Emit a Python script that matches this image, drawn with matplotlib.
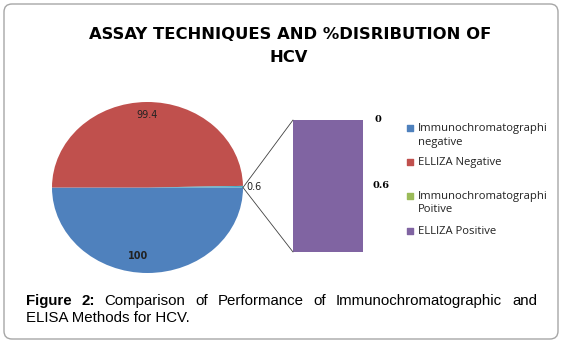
import numpy as np
import matplotlib
matplotlib.use('Agg')
import matplotlib.pyplot as plt
from matplotlib.patches import FancyBboxPatch, ConnectionPatch
from matplotlib.transforms import Bbox, TransformedBbox, IdentityTransform

W, H = 563, 344

# datos del grafico
pie_values = [100, 99.4, 0.6]          # negativo inmuno, negativo ELLIZA, "otros"
pie_text = ['100', '99.4', '0.6']
bar_values = [0.6, 0]                  # ELLIZA positivo, inmuno positivo
bar_text = ['0.6', '0']
legend_labels = [['Immunochromatographic', 'negative'], ['ELLIZA Negative'],
                 ['Immunochromatographic', 'Poitive'], ['ELLIZA Positive']]
colors = ['#4F81BD', '#C0504D', '#9BBB59', '#8064A2']
other_color = '#4BACC6'

fig = plt.figure(figsize=(W / 100, H / 100), dpi=100)
bg = fig.add_axes([0, 0, 1, 1])
bg.set_xlim(0, W)
bg.set_ylim(H, 0)
bg.axis('off')


def px(l, t, r, b):
    return [l / W, 1 - b / H, (r - l) / W, (b - t) / H]


# marco redondeado
bg.add_patch(FancyBboxPatch((4, 4), 554, 335, boxstyle='round,pad=0,rounding_size=8',
                            fc='white', ec='#A6A6A6', lw=1))

# titulo
bg.text(290, 39, 'ASSAY TECHNIQUES AND %DISRIBUTION OF', ha='center', va='baseline',
        fontsize=11.8, fontweight='bold', family='DejaVu Sans', color='black')
bg.text(289, 62, 'HCV', ha='center', va='baseline',
        fontsize=11.8, fontweight='bold', family='DejaVu Sans', color='black')

# pastel
axp = fig.add_axes(px(52, 102, 243, 273))
wedges, _ = axp.pie(pie_values, colors=[colors[0], colors[1], other_color],
                    startangle=0, counterclock=False, wedgeprops=dict(linewidth=0))
axp.set_aspect('auto')
axp.set_xlim(-1, 1)
axp.set_ylim(-1, 1)
for i, w in enumerate(wedges):
    a = np.deg2rad((w.theta1 + w.theta2) / 2)
    if i == 0:
        axp.text(0.8 * np.cos(a) - 0.1, 0.8 * np.sin(a), pie_text[i], ha='center', va='center',
                 fontsize=7, fontweight='bold', color='#222222')
    elif i == 1:
        axp.text(0.85 * np.cos(a), 0.85 * np.sin(a), pie_text[i], ha='center', va='center',
                 fontsize=7, color='#222222')
    else:
        axp.text(1.04, 0.0, pie_text[i], ha='left', va='center', fontsize=7,
                 color='#222222', clip_on=False)

# barra secundaria
axb = fig.add_axes(px(293, 120, 363, 252))
axb.bar([0], [bar_values[0]], width=1, color=colors[3])
axb.bar([0], [bar_values[1]], bottom=bar_values[0], width=1, color=colors[2])
axb.set_xlim(-0.5, 0.5)
axb.set_ylim(0, sum(bar_values))
axb.axis('off')
axb.annotate(bar_text[0], (0.5, bar_values[0] / 2), xytext=(6.5, 0), textcoords='offset points',
             ha='left', va='center', fontsize=7, fontweight='bold', family='DejaVu Serif')
axb.annotate(bar_text[1], (0.5, sum(bar_values)), xytext=(8.6, 0), textcoords='offset points',
             ha='left', va='center', fontsize=7, fontweight='bold', family='DejaVu Serif')

# lineas de union
for yb in [sum(bar_values), 0]:
    con = ConnectionPatch(xyA=(1, 0), coordsA=axp.transData, xyB=(-0.5, yb), coordsB=axb.transData,
                          color='#404040', lw=0.6)
    fig.add_artist(con)

# leyenda
clip = TransformedBbox(Bbox.from_extents(0, 0, 547, H), IdentityTransform())
leg_y = [128, 162, 196, 231]
for lines, y, c in zip(legend_labels, leg_y, colors):
    bg.scatter([410], [y], marker='s', s=18, color=c)
    for k, ln in enumerate(lines):
        t = bg.text(418, y + 14 * k, ln, ha='left', va='center', fontsize=8.1,
                    family='Open Sans', color='#222222')
        t.set_clip_box(clip)
        t.set_clip_on(True)

# pie de figura justificado
r = fig.canvas.get_renderer()
words = [('Figure', 'bold'), ('2:', 'bold'), ('Comparison', 'normal'), ('of', 'normal'),
         ('Performance', 'normal'), ('of', 'normal'), ('Immunochromatographic', 'normal'),
         ('and', 'normal')]
x0, x1 = 26, 537
arts = [bg.text(0, 305, w, fontsize=10.8, fontweight=fw, family='Liberation Sans',
                va='baseline', ha='left') for w, fw in words]
widths = [a.get_window_extent(r).width for a in arts]
gap = (x1 - x0 - sum(widths)) / (len(words) - 1)
x = x0
for a, wd in zip(arts, widths):
    a.set_x(x)
    x += wd + gap
bg.text(x0, 322, 'ELISA Methods for HCV.', fontsize=10.8, family='Liberation Sans',
        va='baseline', ha='left')

fig.savefig('out.png', dpi=100, facecolor='white')
